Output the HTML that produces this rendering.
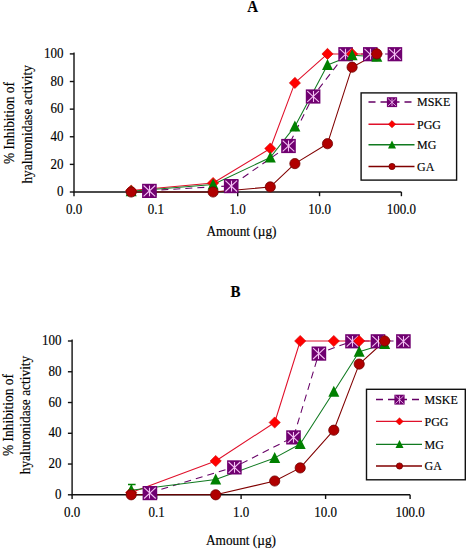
<!DOCTYPE html>
<html><head><meta charset="utf-8"><style>
html,body{margin:0;padding:0;background:#fff;}
svg{display:block;}
text{font-family:"Liberation Serif",serif;font-size:13px;fill:#000;stroke:#000;stroke-width:0.15px;}
</style></head><body>
<svg width="472" height="550" viewBox="0 0 472 550">
<path d="M73.4 53.2H74V192H401.4" stroke="#111" stroke-width="1.4" fill="none"/>
<path d="M69.8 192.00H74" stroke="#111" stroke-width="1.4"/>
<path d="M69.8 164.38H74" stroke="#111" stroke-width="1.4"/>
<path d="M69.8 136.76H74" stroke="#111" stroke-width="1.4"/>
<path d="M69.8 109.14H74" stroke="#111" stroke-width="1.4"/>
<path d="M69.8 81.52H74" stroke="#111" stroke-width="1.4"/>
<path d="M69.8 53.90H74" stroke="#111" stroke-width="1.4"/>
<path d="M74.00 192V196.2" stroke="#111" stroke-width="1.4"/>
<path d="M155.85 192V196.2" stroke="#111" stroke-width="1.4"/>
<path d="M237.70 192V196.2" stroke="#111" stroke-width="1.4"/>
<path d="M319.55 192V196.2" stroke="#111" stroke-width="1.4"/>
<path d="M401.40 192V196.2" stroke="#111" stroke-width="1.4"/>
<polyline points="149.4,190.6 231.2,185.8 288.5,145.7 313.1,96.2 345.6,53.9 370.3,53.9 394.9,53.9" fill="none" stroke="#660066" stroke-width="1.05" stroke-linejoin="round" stroke-dasharray="7,5"/>
<polyline points="131.2,190.6 213.1,183.0 270.3,148.5 294.9,82.9 327.5,53.9 352.1,53.9 376.8,53.9" fill="none" stroke="#e0102a" stroke-width="1.05" stroke-linejoin="round"/>
<polyline points="131.2,191.3 213.1,184.4 270.3,157.5 294.9,126.4 327.5,64.9 352.1,55.3 376.8,56.7" fill="none" stroke="#107a20" stroke-width="1.05" stroke-linejoin="round"/>
<polyline points="131.2,192.0 213.1,192.0 270.3,186.9 294.9,163.6 327.5,143.7 352.1,67.2 376.8,53.9" fill="none" stroke="#800000" stroke-width="1.05" stroke-linejoin="round"/>
<rect x="142.1" y="183.8" width="14.6" height="14.2" fill="#700070"/><path d="M143.6 185.5L155.2 196.3M155.2 185.5L143.6 196.3M149.5 185.5V196.3" stroke="#f4c0f4" stroke-width="1.10" fill="none"/>
<rect x="223.9" y="179.0" width="14.6" height="14.2" fill="#700070"/><path d="M225.4 180.7L237.0 191.5M237.0 180.7L225.4 191.5M231.5 180.7V191.5" stroke="#f4c0f4" stroke-width="1.10" fill="none"/>
<rect x="281.2" y="138.9" width="14.6" height="14.2" fill="#700070"/><path d="M282.7 140.6L294.3 151.4M294.3 140.6L282.7 151.4M288.5 140.6V151.4" stroke="#f4c0f4" stroke-width="1.10" fill="none"/>
<rect x="305.8" y="89.4" width="14.6" height="14.2" fill="#700070"/><path d="M307.3 91.1L318.9 101.9M318.9 91.1L307.3 101.9M313.5 91.1V101.9" stroke="#f4c0f4" stroke-width="1.10" fill="none"/>
<rect x="338.3" y="47.1" width="14.6" height="14.2" fill="#700070"/><path d="M339.8 48.8L351.4 59.6M351.4 48.8L339.8 59.6M345.5 48.8V59.6" stroke="#f4c0f4" stroke-width="1.10" fill="none"/>
<rect x="363.0" y="47.1" width="14.6" height="14.2" fill="#700070"/><path d="M364.5 48.8L376.1 59.6M376.1 48.8L364.5 59.6M370.5 48.8V59.6" stroke="#f4c0f4" stroke-width="1.10" fill="none"/>
<rect x="387.6" y="47.1" width="14.6" height="14.2" fill="#700070"/><path d="M389.1 48.8L400.7 59.6M400.7 48.8L389.1 59.6M394.5 48.8V59.6" stroke="#f4c0f4" stroke-width="1.10" fill="none"/>
<path d="M131.2 185.0L136.8 190.6L131.2 196.2L125.6 190.6Z" fill="#ff0000" stroke="#d00000" stroke-width="0.6"/>
<path d="M213.1 177.4L218.7 183.0L213.1 188.6L207.5 183.0Z" fill="#ff0000" stroke="#d00000" stroke-width="0.6"/>
<path d="M270.3 142.9L275.9 148.5L270.3 154.1L264.7 148.5Z" fill="#ff0000" stroke="#d00000" stroke-width="0.6"/>
<path d="M294.9 77.3L300.5 82.9L294.9 88.5L289.3 82.9Z" fill="#ff0000" stroke="#d00000" stroke-width="0.6"/>
<path d="M327.5 48.3L333.1 53.9L327.5 59.5L321.9 53.9Z" fill="#ff0000" stroke="#d00000" stroke-width="0.6"/>
<path d="M352.1 48.3L357.7 53.9L352.1 59.5L346.5 53.9Z" fill="#ff0000" stroke="#d00000" stroke-width="0.6"/>
<path d="M376.8 48.3L382.4 53.9L376.8 59.5L371.2 53.9Z" fill="#ff0000" stroke="#d00000" stroke-width="0.6"/>
<path d="M131.2 185.3L136.7 196.3L125.7 196.3Z" fill="#008000"/>
<path d="M213.1 178.4L218.6 189.4L207.6 189.4Z" fill="#008000"/>
<path d="M270.3 151.5L275.8 162.5L264.8 162.5Z" fill="#008000"/>
<path d="M294.9 120.4L300.4 131.4L289.4 131.4Z" fill="#008000"/>
<path d="M327.5 58.9L333.0 69.9L322.0 69.9Z" fill="#008000"/>
<path d="M352.1 49.3L357.6 60.3L346.6 60.3Z" fill="#008000"/>
<path d="M376.8 50.7L382.3 61.7L371.3 61.7Z" fill="#008000"/>
<circle cx="131.2" cy="192.0" r="5.1" fill="#b00000" stroke="#700000" stroke-width="0.8"/>
<circle cx="213.1" cy="192.0" r="5.1" fill="#b00000" stroke="#700000" stroke-width="0.8"/>
<circle cx="270.3" cy="186.9" r="5.1" fill="#b00000" stroke="#700000" stroke-width="0.8"/>
<circle cx="294.9" cy="163.6" r="5.1" fill="#b00000" stroke="#700000" stroke-width="0.8"/>
<circle cx="327.5" cy="143.7" r="5.1" fill="#b00000" stroke="#700000" stroke-width="0.8"/>
<circle cx="352.1" cy="67.2" r="5.1" fill="#b00000" stroke="#700000" stroke-width="0.8"/>
<circle cx="376.8" cy="53.9" r="5.1" fill="#b00000" stroke="#700000" stroke-width="0.8"/>
<text transform="translate(63.50,196.20) scale(1.0,1.07)" text-anchor="end" style="font-size:13px;">0</text>
<text transform="translate(63.50,168.58) scale(1.0,1.07)" text-anchor="end" style="font-size:13px;">20</text>
<text transform="translate(63.50,140.96) scale(1.0,1.07)" text-anchor="end" style="font-size:13px;">40</text>
<text transform="translate(63.50,113.34) scale(1.0,1.07)" text-anchor="end" style="font-size:13px;">60</text>
<text transform="translate(63.50,85.72) scale(1.0,1.07)" text-anchor="end" style="font-size:13px;">80</text>
<text transform="translate(63.50,58.10) scale(1.0,1.07)" text-anchor="end" style="font-size:13px;">100</text>
<text transform="translate(74.00,214.00) scale(1.0,1.07)" text-anchor="middle" style="font-size:13px;">0.0</text>
<text transform="translate(155.85,214.00) scale(1.0,1.07)" text-anchor="middle" style="font-size:13px;">0.1</text>
<text transform="translate(237.70,214.00) scale(1.0,1.07)" text-anchor="middle" style="font-size:13px;">1.0</text>
<text transform="translate(319.55,214.00) scale(1.0,1.07)" text-anchor="middle" style="font-size:13px;">10.0</text>
<text transform="translate(401.40,214.00) scale(1.0,1.07)" text-anchor="middle" style="font-size:13px;">100.0</text>
<rect x="361.1" y="92.9" width="95.5" height="87.2" fill="#fff" stroke="#111" stroke-width="1.4"/>
<path d="M368.5 102H414.5" stroke="#660066" stroke-width="1.4" stroke-dasharray="7,5"/>
<rect x="386.9" y="97.2" width="10.2" height="9.9" fill="#700070"/><path d="M387.9 98.4L396.1 106.0M396.1 98.4L387.9 106.0M392.0 98.4V106.0" stroke="#f4c0f4" stroke-width="0.80" fill="none"/>
<text transform="translate(417.00,106.40) scale(1.0,1.07)" text-anchor="start" style="font-size:12px;">MSKE</text>
<path d="M368.5 124.2H414.5" stroke="#e0102a" stroke-width="1.4"/>
<path d="M392.0 120.6L395.6 124.2L392.0 127.8L388.4 124.2Z" fill="#ff0000" stroke="#d00000" stroke-width="0.6"/>
<text transform="translate(417.00,128.60) scale(1.0,1.07)" text-anchor="start" style="font-size:12px;">PGG</text>
<path d="M368.5 144.8H414.5" stroke="#107a20" stroke-width="1.4"/>
<path d="M392.0 140.5L396.0 148.4L388.0 148.4Z" fill="#008000"/>
<text transform="translate(417.00,149.20) scale(1.0,1.07)" text-anchor="start" style="font-size:12px;">MG</text>
<path d="M368.5 166.5H414.5" stroke="#800000" stroke-width="1.4"/>
<circle cx="392.0" cy="166.5" r="3.1" fill="#b00000" stroke="#700000" stroke-width="0.8"/>
<text transform="translate(417.00,170.90) scale(1.0,1.07)" text-anchor="start" style="font-size:12px;">GA</text>
<text transform="translate(241.50,235.50) scale(1.0,1.07)" text-anchor="middle" style="font-size:13.3px;">Amount (µg)</text>
<text transform="translate(13.80,123.00) rotate(-90) scale(1.0,1.07)" text-anchor="middle" style="font-size:13.4px;">% Inhibition of</text>
<text transform="translate(31.80,124.30) rotate(-90) scale(1.0,1.07)" text-anchor="middle" style="font-size:13.4px;">hyaluronidase activity</text>
<text transform="translate(252.70,11.50) scale(1.0,1.07)" text-anchor="middle" style="font-size:15px;font-weight:bold">A</text>
<path d="M71.5 340.3H72.1V494.8H410.1" stroke="#111" stroke-width="1.4" fill="none"/>
<path d="M67.9 494.80H72.1" stroke="#111" stroke-width="1.4"/>
<path d="M67.9 464.04H72.1" stroke="#111" stroke-width="1.4"/>
<path d="M67.9 433.28H72.1" stroke="#111" stroke-width="1.4"/>
<path d="M67.9 402.52H72.1" stroke="#111" stroke-width="1.4"/>
<path d="M67.9 371.76H72.1" stroke="#111" stroke-width="1.4"/>
<path d="M67.9 341.00H72.1" stroke="#111" stroke-width="1.4"/>
<path d="M72.10 494.8V499.0" stroke="#111" stroke-width="1.4"/>
<path d="M156.60 494.8V499.0" stroke="#111" stroke-width="1.4"/>
<path d="M241.10 494.8V499.0" stroke="#111" stroke-width="1.4"/>
<path d="M325.60 494.8V499.0" stroke="#111" stroke-width="1.4"/>
<path d="M410.10 494.8V499.0" stroke="#111" stroke-width="1.4"/>
<polyline points="149.9,492.8 234.4,467.1 293.5,437.1 318.9,353.3 352.5,341.0 378.0,341.0 403.4,341.0" fill="none" stroke="#660066" stroke-width="1.05" stroke-linejoin="round" stroke-dasharray="7,5"/>
<polyline points="131.2,492.5 215.7,461.0 274.7,422.5 300.2,341.0 333.8,341.0 359.2,341.0 384.7,341.0" fill="none" stroke="#e0102a" stroke-width="1.05" stroke-linejoin="round"/>
<polyline points="131.2,490.2 215.7,479.4 274.7,457.9 300.2,444.0 333.8,391.8 359.2,351.8 384.7,344.1" fill="none" stroke="#107a20" stroke-width="1.05" stroke-linejoin="round"/>
<polyline points="131.2,494.8 215.7,494.8 274.7,481.0 300.2,467.9 333.8,430.2 359.2,364.1 384.7,341.0" fill="none" stroke="#800000" stroke-width="1.05" stroke-linejoin="round"/>
<rect x="142.6" y="486.0" width="14.6" height="14.2" fill="#700070"/><path d="M144.1 487.7L155.7 498.5M155.7 487.7L144.1 498.5M149.5 487.7V498.5" stroke="#f4c0f4" stroke-width="1.10" fill="none"/>
<rect x="227.1" y="460.3" width="14.6" height="14.2" fill="#700070"/><path d="M228.6 462.0L240.2 472.8M240.2 462.0L228.6 472.8M234.5 462.0V472.8" stroke="#f4c0f4" stroke-width="1.10" fill="none"/>
<rect x="286.2" y="430.3" width="14.6" height="14.2" fill="#700070"/><path d="M287.7 432.0L299.3 442.8M299.3 432.0L287.7 442.8M293.5 432.0V442.8" stroke="#f4c0f4" stroke-width="1.10" fill="none"/>
<rect x="311.6" y="346.5" width="14.6" height="14.2" fill="#700070"/><path d="M313.1 348.2L324.7 359.0M324.7 348.2L313.1 359.0M318.5 348.2V359.0" stroke="#f4c0f4" stroke-width="1.10" fill="none"/>
<rect x="345.2" y="334.2" width="14.6" height="14.2" fill="#700070"/><path d="M346.7 335.9L358.3 346.7M358.3 335.9L346.7 346.7M352.5 335.9V346.7" stroke="#f4c0f4" stroke-width="1.10" fill="none"/>
<rect x="370.7" y="334.2" width="14.6" height="14.2" fill="#700070"/><path d="M372.2 335.9L383.8 346.7M383.8 335.9L372.2 346.7M378.5 335.9V346.7" stroke="#f4c0f4" stroke-width="1.10" fill="none"/>
<rect x="396.1" y="334.2" width="14.6" height="14.2" fill="#700070"/><path d="M397.6 335.9L409.2 346.7M409.2 335.9L397.6 346.7M403.5 335.9V346.7" stroke="#f4c0f4" stroke-width="1.10" fill="none"/>
<path d="M131.2 486.9L136.8 492.5L131.2 498.1L125.6 492.5Z" fill="#ff0000" stroke="#d00000" stroke-width="0.6"/>
<path d="M215.7 455.4L221.3 461.0L215.7 466.6L210.1 461.0Z" fill="#ff0000" stroke="#d00000" stroke-width="0.6"/>
<path d="M274.7 416.9L280.3 422.5L274.7 428.1L269.1 422.5Z" fill="#ff0000" stroke="#d00000" stroke-width="0.6"/>
<path d="M300.2 335.4L305.8 341.0L300.2 346.6L294.6 341.0Z" fill="#ff0000" stroke="#d00000" stroke-width="0.6"/>
<path d="M333.8 335.4L339.4 341.0L333.8 346.6L328.2 341.0Z" fill="#ff0000" stroke="#d00000" stroke-width="0.6"/>
<path d="M359.2 335.4L364.8 341.0L359.2 346.6L353.6 341.0Z" fill="#ff0000" stroke="#d00000" stroke-width="0.6"/>
<path d="M384.7 335.4L390.3 341.0L384.7 346.6L379.1 341.0Z" fill="#ff0000" stroke="#d00000" stroke-width="0.6"/>
<path d="M131.2 484.2L136.7 495.2L125.7 495.2Z" fill="#008000"/>
<path d="M215.7 473.4L221.2 484.4L210.2 484.4Z" fill="#008000"/>
<path d="M274.7 451.9L280.2 462.9L269.2 462.9Z" fill="#008000"/>
<path d="M300.2 438.0L305.7 449.0L294.7 449.0Z" fill="#008000"/>
<path d="M333.8 385.8L339.3 396.8L328.3 396.8Z" fill="#008000"/>
<path d="M359.2 345.8L364.7 356.8L353.7 356.8Z" fill="#008000"/>
<path d="M384.7 338.1L390.2 349.1L379.2 349.1Z" fill="#008000"/>
<circle cx="131.2" cy="494.8" r="5.1" fill="#b00000" stroke="#700000" stroke-width="0.8"/>
<circle cx="215.7" cy="494.8" r="5.1" fill="#b00000" stroke="#700000" stroke-width="0.8"/>
<circle cx="274.7" cy="481.0" r="5.1" fill="#b00000" stroke="#700000" stroke-width="0.8"/>
<circle cx="300.2" cy="467.9" r="5.1" fill="#b00000" stroke="#700000" stroke-width="0.8"/>
<circle cx="333.8" cy="430.2" r="5.1" fill="#b00000" stroke="#700000" stroke-width="0.8"/>
<circle cx="359.2" cy="364.1" r="5.1" fill="#b00000" stroke="#700000" stroke-width="0.8"/>
<circle cx="384.7" cy="341.0" r="5.1" fill="#b00000" stroke="#700000" stroke-width="0.8"/>
<path d="M128 484.5H135.6M131.6 484.5V490" stroke="#008000" stroke-width="1.3" fill="none"/>
<text transform="translate(61.50,499.00) scale(1.0,1.07)" text-anchor="end" style="font-size:13px;">0</text>
<text transform="translate(61.50,468.24) scale(1.0,1.07)" text-anchor="end" style="font-size:13px;">20</text>
<text transform="translate(61.50,437.48) scale(1.0,1.07)" text-anchor="end" style="font-size:13px;">40</text>
<text transform="translate(61.50,406.72) scale(1.0,1.07)" text-anchor="end" style="font-size:13px;">60</text>
<text transform="translate(61.50,375.96) scale(1.0,1.07)" text-anchor="end" style="font-size:13px;">80</text>
<text transform="translate(61.50,345.20) scale(1.0,1.07)" text-anchor="end" style="font-size:13px;">100</text>
<text transform="translate(72.10,517.00) scale(1.0,1.07)" text-anchor="middle" style="font-size:13px;">0.0</text>
<text transform="translate(156.60,517.00) scale(1.0,1.07)" text-anchor="middle" style="font-size:13px;">0.1</text>
<text transform="translate(241.10,517.00) scale(1.0,1.07)" text-anchor="middle" style="font-size:13px;">1.0</text>
<text transform="translate(325.60,517.00) scale(1.0,1.07)" text-anchor="middle" style="font-size:13px;">10.0</text>
<text transform="translate(410.10,517.00) scale(1.0,1.07)" text-anchor="middle" style="font-size:13px;">100.0</text>
<rect x="366.5" y="389.3" width="98.8" height="90.5" fill="#fff" stroke="#111" stroke-width="1.4"/>
<path d="M376 399.5H422" stroke="#660066" stroke-width="1.4" stroke-dasharray="7,5"/>
<rect x="394.4" y="394.7" width="10.2" height="9.9" fill="#700070"/><path d="M395.4 395.9L403.6 403.5M403.6 395.9L395.4 403.5M399.5 395.9V403.5" stroke="#f4c0f4" stroke-width="0.80" fill="none"/>
<text transform="translate(424.50,403.90) scale(1.0,1.07)" text-anchor="start" style="font-size:12px;">MSKE</text>
<path d="M376 421.4H422" stroke="#e0102a" stroke-width="1.4"/>
<path d="M399.5 417.8L403.1 421.4L399.5 425.0L395.9 421.4Z" fill="#ff0000" stroke="#d00000" stroke-width="0.6"/>
<text transform="translate(424.50,425.80) scale(1.0,1.07)" text-anchor="start" style="font-size:12px;">PGG</text>
<path d="M376 444.4H422" stroke="#107a20" stroke-width="1.4"/>
<path d="M399.5 440.1L403.5 448.0L395.5 448.0Z" fill="#008000"/>
<text transform="translate(424.50,448.80) scale(1.0,1.07)" text-anchor="start" style="font-size:12px;">MG</text>
<path d="M376 466H422" stroke="#800000" stroke-width="1.4"/>
<circle cx="399.5" cy="466.0" r="3.1" fill="#b00000" stroke="#700000" stroke-width="0.8"/>
<text transform="translate(424.50,470.40) scale(1.0,1.07)" text-anchor="start" style="font-size:12px;">GA</text>
<text transform="translate(241.00,544.50) scale(1.0,1.07)" text-anchor="middle" style="font-size:13.3px;">Amount (µg)</text>
<text transform="translate(13.00,415.00) rotate(-90) scale(1.0,1.07)" text-anchor="middle" style="font-size:13.4px;">% Inhibition of</text>
<text transform="translate(30.00,415.00) rotate(-90) scale(1.0,1.07)" text-anchor="middle" style="font-size:13.4px;">hyaluronidase activity</text>
<text transform="translate(235.50,297.00) scale(1.0,1.07)" text-anchor="middle" style="font-size:15px;font-weight:bold">B</text>
</svg>
</body></html>
